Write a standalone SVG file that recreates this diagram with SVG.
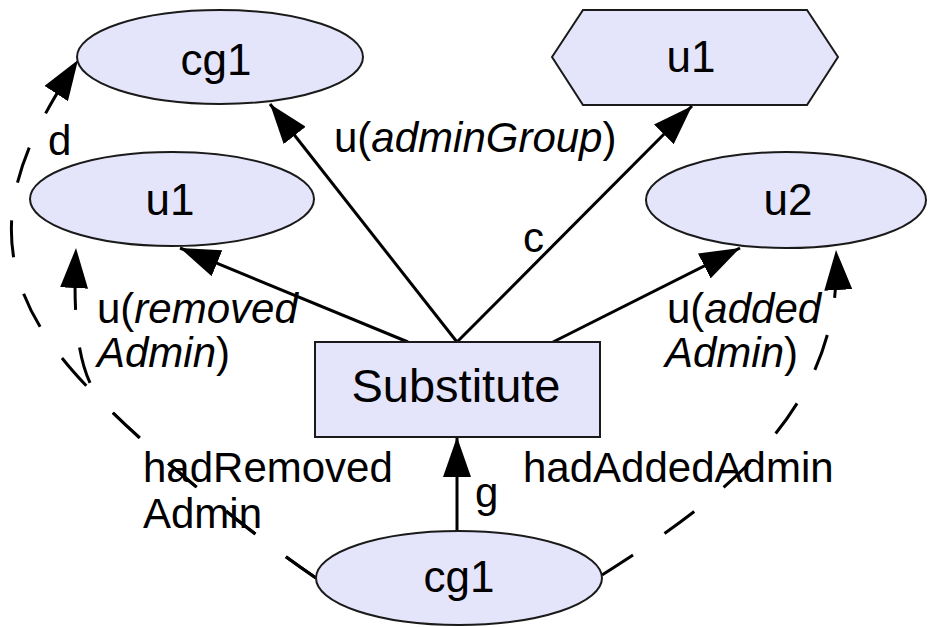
<svg xmlns="http://www.w3.org/2000/svg" width="928" height="627" viewBox="0 0 928 627">
  <style>
    .node { fill: #e4e4fa; stroke: #1a1a1a; stroke-width: 2; }
    .edge { fill: none; stroke: #000; stroke-width: 3; }
    .dash { fill: none; stroke: #000; stroke-width: 3; stroke-dasharray: 37 38; }
    .nlabel { font-family: "Liberation Sans", Arial, sans-serif; font-size: 44px; fill: #000; text-anchor: middle; }
    .elabel { font-family: "Liberation Sans", Arial, sans-serif; font-size: 42px; fill: #000; }
    .it { font-style: italic; }
  </style>
  <defs>
    <marker id="arrow" markerUnits="userSpaceOnUse" markerWidth="40" markerHeight="28" refX="40" refY="14" orient="auto">
      <path d="M0,0 L40,14 L0,28 z" fill="#000"/>
    </marker>
  </defs>

  <rect width="928" height="627" fill="#fff"/>

  <!-- connectors -->
  <g id="connectors">
    <path class="edge" d="M457,342 L270,104" marker-end="url(#arrow)"/>
    <path class="edge" d="M457,342 L692,106" marker-end="url(#arrow)"/>
    <path class="edge" d="M408,342 L180,248" marker-end="url(#arrow)"/>
    <path class="edge" d="M553,342 L740,248" marker-end="url(#arrow)"/>
    <path class="edge" d="M457,532 L457,437" marker-end="url(#arrow)"/>
    <!-- d -->
    <path class="dash" d="M316,578 C250,533 160,460 105,405 C60,360 5,300 12,215 C17,155 52,100 78,60" marker-end="url(#arrow)"/>
    <!-- hadRemovedAdmin -->
    <path class="dash" d="M316,578 C250,533 160,460 105,405 C80,380 72,330 76,248" marker-end="url(#arrow)"/>
    <!-- hadAddedAdmin -->
    <path class="dash" d="M602,575 C720,500 845,410 836,250" marker-end="url(#arrow)"/>

    <text class="elabel" x="48" y="155">d</text>
    <text class="elabel" x="334" y="152">u(<tspan class="it">adminGroup</tspan>)</text>
    <text class="elabel" x="523" y="252">c</text>
    <text class="elabel" x="97" y="323">u(<tspan class="it">removed</tspan></text>
    <text class="elabel" x="97" y="367"><tspan class="it">Admin</tspan>)</text>
    <text class="elabel" x="667" y="323">u(<tspan class="it">added</tspan></text>
    <text class="elabel" x="665" y="367"><tspan class="it">Admin</tspan>)</text>
    <text class="elabel" x="143" y="482">hadRemoved</text>
    <text class="elabel" x="143" y="528">Admin</text>
    <text class="elabel" x="523" y="482">hadAddedAdmin</text>
    <text class="elabel" x="475" y="507">g</text>
  </g>

  <g id="cg1_top">
    <ellipse class="node" cx="220" cy="57" rx="143" ry="47"/>
    <text class="nlabel" x="216" y="75">cg1</text>
  </g>
  <g id="u1_hex">
    <polygon class="node" points="552,57 583,10 807,10 838,57 807,105 583,105"/>
    <text class="nlabel" x="691" y="72">u1</text>
  </g>
  <g id="u1">
    <ellipse class="node" cx="172" cy="199" rx="142" ry="47"/>
    <text class="nlabel" x="170" y="215">u1</text>
  </g>
  <g id="u2">
    <ellipse class="node" cx="786" cy="200" rx="140" ry="48"/>
    <text class="nlabel" x="788" y="215">u2</text>
  </g>
  <g id="substitute">
    <rect class="node" x="315" y="342" width="285" height="95"/>
    <text class="nlabel" x="456" y="402" style="font-size:47px">Substitute</text>
  </g>
  <g id="cg1_bottom">
    <ellipse class="node" cx="459" cy="578" rx="143" ry="47"/>
    <text class="nlabel" x="459" y="592">cg1</text>
  </g>
</svg>
